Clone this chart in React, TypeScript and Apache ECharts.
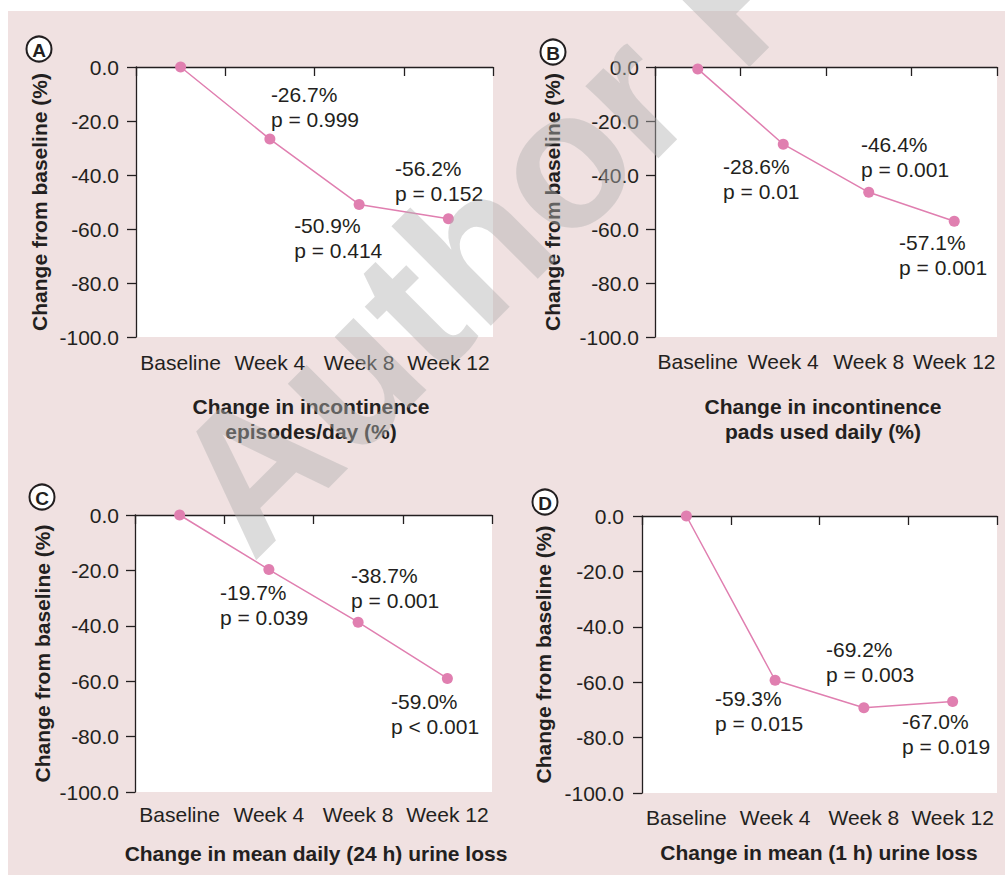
import React, { useEffect, useRef } from "react";
import * as echarts from "echarts";

const categories = ["Baseline", "Week 4", "Week 8", "Week 12"];

const episodesChange = [0, -26.7, -50.9, -56.2];
const episodesP = ["", "p = 0.999", "p = 0.414", "p = 0.152"];

const padsChange = [-0.7, -28.6, -46.4, -57.1];
const padsP = ["", "p = 0.01", "p = 0.001", "p = 0.001"];

const dailyLossChange = [0, -19.7, -38.7, -59.0];
const dailyLossP = ["", "p = 0.039", "p = 0.001", "p < 0.001"];

const hourLossChange = [0, -59.3, -69.2, -67.0];
const hourLossP = ["", "p = 0.015", "p = 0.003", "p = 0.019"];

const yMin = -100;
const yMax = 0;
const yStep = 20;

const FONT = "'Liberation Sans', Arial, Helvetica, sans-serif";
const DARK = "#231f20";
const PINK = "#e07fb0";

const panels = [
  {
    letter: "A",
    values: episodesChange,
    pLabels: episodesP,
    grid: { left: 136, top: 67, width: 357, height: 270 },
    offsets: [null, [1, -56.6], [-65, 8.1], [-53.4, -63.2]],
    title: "Change in incontinence\nepisodes/day (%)",
    titlePos: [311, 419],
    circle: [39, 49],
    nameGap: 86,
    yMargin: 17,
    xMargin: 15,
  },
  {
    letter: "B",
    values: padsChange,
    pLabels: padsP,
    grid: { left: 655, top: 67, width: 342, height: 270 },
    offsets: [null, [-60.2, 9.3], [-7.8, -59.8], [-55.2, 9.3]],
    title: "Change in incontinence\npads used daily (%)",
    titlePos: [823, 419],
    circle: [553, 52],
    nameGap: 92,
    yMargin: 16,
    xMargin: 14,
  },
  {
    letter: "C",
    values: dailyLossChange,
    pLabels: dailyLossP,
    grid: { left: 135, top: 515, width: 357, height: 277 },
    offsets: [null, [-48.9, 10.9], [-7.1, -58.7], [-56.4, 10.1]],
    title: "Change in mean daily (24 h) urine loss",
    titlePos: [316, 853],
    circle: [42, 497],
    nameGap: 82,
    yMargin: 16,
    xMargin: 12,
  },
  {
    letter: "D",
    values: hourLossChange,
    pLabels: hourLossP,
    grid: { left: 642, top: 516, width: 355, height: 277 },
    offsets: [null, [-60.1, 6.2], [-37.9, -70.2], [-50.6, 7.9]],
    title: "Change in mean (1 h) urine loss",
    titlePos: [819, 852],
    circle: [545, 502],
    nameGap: 88,
    yMargin: 18,
    xMargin: 14,
  },
];

const SYM = 11;

export default function App() {
  const ref = useRef<HTMLDivElement>(null);

  useEffect(() => {
    if (!ref.current) return;
    const chart = echarts.init(ref.current, undefined, { renderer: "svg" });

    const option: any = {
      animation: false,
      backgroundColor: "transparent",
      grid: panels.map((p) => ({
        ...p.grid,
        show: true,
        backgroundColor: "#ffffff",
        borderWidth: 0,
        containLabel: false,
      })),
      xAxis: panels.map((p, i) => ({
        type: "category",
        gridIndex: i,
        data: categories,
        boundaryGap: true,
        axisLine: { show: true, lineStyle: { color: DARK, width: 1.3 } },
        axisTick: { show: true, length: 9, interval: 0, lineStyle: { color: DARK, width: 1.3 } },
        axisLabel: {
          interval: 0,
          margin: p.xMargin,
          color: DARK,
          fontSize: 21,
          fontFamily: FONT,
        },
        splitLine: { show: false },
      })),
      yAxis: panels.map((p, i) => ({
        type: "value",
        gridIndex: i,
        min: yMin,
        max: yMax,
        interval: yStep,
        axisLine: { show: true, lineStyle: { color: DARK, width: 1.3 } },
        axisTick: { show: true, length: 9, lineStyle: { color: DARK, width: 1.3 } },
        axisLabel: {
          margin: p.yMargin,
          color: DARK,
          fontSize: 21,
          fontFamily: FONT,
          formatter: (v: number) => v.toFixed(1),
        },
        splitLine: { show: false },
        name: "Change from baseline (%)",
        nameLocation: "middle",
        nameGap: p.nameGap,
        nameTextStyle: {
          color: DARK,
          fontSize: 21,
          fontWeight: "bold",
          fontFamily: FONT,
        },
      })),
      series: panels.map((p, i) => ({
        type: "line",
        xAxisIndex: i,
        yAxisIndex: i,
        symbol: "circle",
        symbolSize: SYM,
        itemStyle: { color: PINK },
        lineStyle: { color: PINK, width: 1.5 },
        z: 5,
        data: p.values.map((v, j) => {
          const off = p.offsets[j];
          if (!off) return { value: v, label: { show: false } };
          return {
            value: v,
            label: {
              show: true,
              position: [off[0] + SYM / 2, off[1] + SYM / 2],
              align: "left",
              verticalAlign: "top",
              formatter: `${v.toFixed(1)}%\n${p.pLabels[j]}`,
              color: DARK,
              fontSize: 21,
              lineHeight: 25,
              fontFamily: FONT,
            },
          };
        }),
      })),
      graphic: [
        ...panels.map((p) => ({
          type: "text",
          x: p.titlePos[0],
          y: p.titlePos[1],
          z: 10,
          style: {
            text: p.title,
            align: "center",
            verticalAlign: "middle",
            fill: DARK,
            font: `bold 21px ${FONT}`,
            lineHeight: 25,
          },
        })),
        ...panels.map((p) => ({
          type: "group",
          x: p.circle[0],
          y: p.circle[1],
          z: 10,
          children: [
            {
              type: "circle",
              shape: { cx: 0, cy: 0, r: 12.5 },
              style: { fill: "#ffffff", stroke: DARK, lineWidth: 2 },
            },
            {
              type: "text",
              x: 0,
              y: 1,
              style: {
                text: p.letter,
                align: "center",
                verticalAlign: "middle",
                fill: DARK,
                font: `bold 19px ${FONT}`,
              },
            },
          ],
        })),
        {
          type: "text",
          x: 205,
          y: 516,
          rotation: Math.PI / 4,
          z: 100,
          silent: true,
          style: {
            text: "Author Proof",
            align: "left",
            verticalAlign: "middle",
            fill: "rgba(178,178,178,0.45)",
            font: `bold 194px ${FONT}`,
          },
        },
      ],
    };

    chart.setOption(option);
    return () => chart.dispose();
  }, []);

  return (
    <div
      style={{
        position: "fixed",
        left: 0,
        top: 0,
        width: 1005,
        height: 875,
        background: "#ffffff",
        overflow: "hidden",
      }}
    >
      <div
        style={{
          position: "absolute",
          left: 8,
          top: 11,
          width: 997,
          height: 864,
          background: "#f0e1e1",
        }}
      />
      <div
        ref={ref}
        style={{ position: "absolute", left: 0, top: 0, width: 1005, height: 875 }}
      />
    </div>
  );
}
